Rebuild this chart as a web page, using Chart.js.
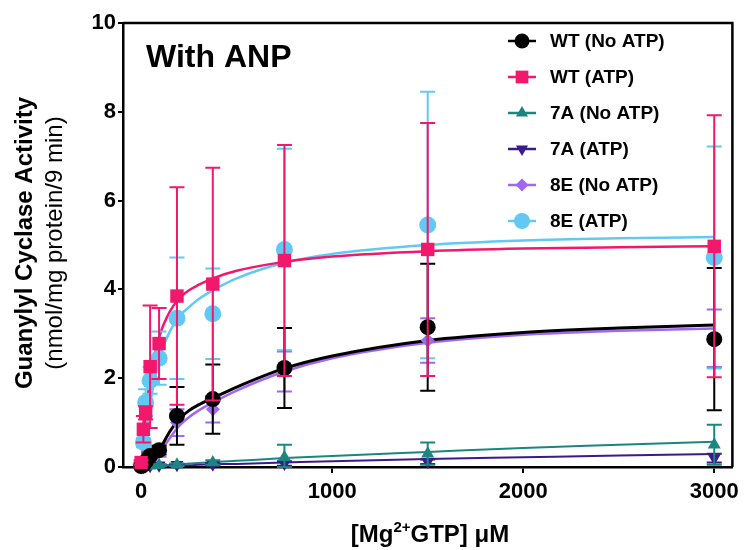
<!DOCTYPE html>
<html>
<head>
<meta charset="utf-8">
<script src="https://cdn.jsdelivr.net/npm/chart.js@4.4.0/dist/chart.umd.min.js"></script>
<style>
  html, body { margin: 0; padding: 0; background: #fff; }
  #wrap { width: 745px; height: 550px; }
</style>
</head>
<body>
<div id="wrap"><canvas id="gc"></canvas></div>
<script>
// measured points (uM GTP)
const xConc = [0, 11.7, 23.4, 46.9, 93.8, 187.5, 375, 750, 1500, 3000];

const wtNoAtp   = [0.02, 0.05, 0.12, 0.25, 0.38, 1.15, 1.53, 2.23, 3.15, 2.88];
const wtNoAtpSd = [0, 0, 0.02, 0.05, 0.1, 0.65, 0.78, 0.9, 1.43, 1.6];
const wtAtp     = [0.1, 0.85, 1.22, 2.26, 2.78, 3.85, 4.12, 4.65, 4.9, 4.97];
const wtAtpSd   = [0.05, 0.3, 0.15, 1.38, 0.8, 2.45, 2.62, 2.6, 2.85, 2.95];
const a7NoAtp   = [0, 0.01, 0.02, 0.03, 0.04, 0.05, 0.1, 0.22, 0.3, 0.5];
const a7NoAtpSd = [0, 0, 0, 0.01, 0.02, 0.03, 0.05, 0.28, 0.25, 0.45];
const a7Atp     = [0, 0.01, 0.02, 0.03, 0.04, 0.05, 0.06, 0.08, 0.12, 0.2];
const a7AtpSd   = [0, 0, 0, 0, 0.01, 0.02, 0.03, 0.05, 0.05, 0.1];
const e8NoAtp   = [0.02, 0.05, 0.1, 0.2, 0.33, 1.0, 1.3, 2.15, 2.85, 2.9];
const e8NoAtpSd = [0, 0, 0.02, 0.05, 0.1, 0.3, 0.3, 0.45, 0.5, 0.65];
const e8Atp     = [0.05, 0.55, 1.45, 1.95, 2.45, 3.35, 3.45, 4.9, 5.45, 4.72];
const e8AtpSd   = [0.02, 0.1, 0.3, 0.3, 0.6, 1.37, 1.02, 2.27, 3.0, 2.5];

// fitted curves
const curveX     = [0, 25, 50, 100, 150, 200, 250, 300, 375, 500, 750, 1000, 1500, 2000, 2500, 3000];
const wtNoAtpFit = [0, 0.04, 0.12, 0.42, 0.8, 1.08, 1.27, 1.4, 1.55, 1.8, 2.22, 2.5, 2.85, 3.03, 3.13, 3.2];
const wtAtpFit   = [0, 1.2, 2.1, 3.0, 3.5, 3.8, 3.98, 4.1, 4.25, 4.42, 4.62, 4.74, 4.86, 4.92, 4.95, 4.97];
const a7NoAtpFit = [0, 0.01, 0.02, 0.03, 0.05, 0.06, 0.08, 0.09, 0.11, 0.14, 0.2, 0.25, 0.34, 0.43, 0.5, 0.57];
const a7AtpFit   = [0, 0.01, 0.01, 0.02, 0.03, 0.04, 0.04, 0.05, 0.06, 0.07, 0.1, 0.13, 0.18, 0.22, 0.26, 0.29];
const e8NoAtpFit = [0, 0.03, 0.1, 0.35, 0.65, 0.93, 1.12, 1.27, 1.45, 1.72, 2.15, 2.45, 2.8, 2.98, 3.07, 3.12];
const e8AtpFit   = [0, 0.7, 1.5, 2.5, 3.05, 3.4, 3.6, 3.78, 3.98, 4.25, 4.6, 4.8, 5.0, 5.1, 5.15, 5.18];

const seriesNames = ['WT (No ATP)', 'WT (ATP)', '7A (No ATP)', '7A (ATP)', '8E (No ATP)', '8E (ATP)'];
const xTicks = [0, 1000, 2000, 3000];

const FONT = "'Liberation Sans', Arial, sans-serif";
const series = [
  { name: seriesNames[0], y: wtNoAtp, sd: wtNoAtpSd, fit: wtNoAtpFit, color: '#000000', style: 'circle', r: 8, rot: 0, lw: 3, order: 5 },
  { name: seriesNames[1], y: wtAtp, sd: wtAtpSd, fit: wtAtpFit, color: '#f2186c', style: 'rect', r: 9.5, rot: 0, lw: 2.5, order: 4 },
  { name: seriesNames[2], y: a7NoAtp, sd: a7NoAtpSd, fit: a7NoAtpFit, color: '#1b8580', style: 'triangle', r: 7.5, rot: 0, lw: 2, order: 8 },
  { name: seriesNames[3], y: a7Atp, sd: a7AtpSd, fit: a7AtpFit, color: '#3b1a8c', style: 'triangle', r: 7.5, rot: 180, lw: 2, order: 9 },
  { name: seriesNames[4], y: e8NoAtp, sd: e8NoAtpSd, fit: e8NoAtpFit, color: '#a068f2', style: 'rectRot', r: 7, rot: 0, lw: 2.5, order: 7 },
  { name: seriesNames[5], y: e8Atp, sd: e8AtpSd, fit: e8AtpFit, color: '#62c8f4', style: 'circle', r: 8.5, rot: 0, lw: 2.5, order: 6 }
];

const datasets = [];
series.forEach(s => {
  datasets.push({
    label: s.name + ' fit',
    data: curveX.map((x, i) => ({ x: x, y: s.fit[i] })),
    showLine: true,
    pointRadius: 0,
    borderColor: s.color,
    borderWidth: s.lw,
    cubicInterpolationMode: 'monotone',
    order: s.order + 10
  });
  datasets.push({
    label: s.name,
    data: xConc.map((x, i) => ({ x: x, y: s.y[i] })),
    errorBars: s.sd,
    showLine: false,
    pointStyle: s.style,
    pointRadius: s.r,
    pointRotation: s.rot,
    backgroundColor: s.color,
    borderColor: s.color,
    borderWidth: 0,
    clip: false,
    order: s.order
  });
});

const errorBarPlugin = {
  id: 'errorBars',
  beforeDatasetDraw(chart, args) {
    const ds = chart.data.datasets[args.index];
    if (!ds.errorBars) return;
    const ctx = chart.ctx, xs = chart.scales.x, ys = chart.scales.y;
    ctx.save();
    ctx.strokeStyle = ds.borderColor;
    ctx.lineWidth = 2;
    ds.data.forEach((p, i) => {
      const e = ds.errorBars[i];
      if (!e) return;
      const px = xs.getPixelForValue(p.x);
      const top = ys.getPixelForValue(p.y + e);
      const bot = ys.getPixelForValue(Math.max(0, p.y - e));
      ctx.beginPath();
      ctx.moveTo(px, top); ctx.lineTo(px, bot);
      ctx.moveTo(px - 7.5, top); ctx.lineTo(px + 7.5, top);
      ctx.moveTo(px - 7.5, bot); ctx.lineTo(px + 7.5, bot);
      ctx.stroke();
    });
    ctx.restore();
  }
};

const decorPlugin = {
  id: 'decor',
  afterDraw(chart) {
    const ctx = chart.ctx, a = chart.chartArea;
    ctx.save();
    // frame top/right
    ctx.strokeStyle = '#000';
    ctx.lineWidth = 2.5;
    ctx.beginPath();
    ctx.moveTo(a.left, a.top); ctx.lineTo(a.right, a.top); ctx.lineTo(a.right, a.bottom);
    ctx.stroke();

    ctx.fillStyle = '#000';
    ctx.font = 'bold 32px ' + FONT;
    ctx.textBaseline = 'alphabetic';
    ctx.textAlign = 'left';
    ctx.fillText('With ANP', 146, 67);

    // legend
    ctx.textBaseline = 'middle';
    series.forEach((s, i) => {
      const y = 41 + i * 36;
      ctx.strokeStyle = s.color;
      ctx.fillStyle = s.color;
      ctx.lineWidth = 2.5;
      ctx.beginPath(); ctx.moveTo(508, y); ctx.lineTo(536, y); ctx.stroke();
      Chart.helpers.drawPoint(ctx, { pointStyle: s.style, radius: s.r - 0.5, rotation: s.rot, borderWidth: 0 }, 522, y);
      ctx.fillStyle = '#000';
      ctx.font = 'bold 19px ' + FONT;
      ctx.fillText(s.name, 550, y + 1);
    });

    // y title
    ctx.save();
    ctx.translate(25, 243);
    ctx.rotate(-Math.PI / 2);
    ctx.textAlign = 'center';
    ctx.textBaseline = 'middle';
    ctx.font = 'bold 24px ' + FONT;
    ctx.fillText('Guanylyl Cyclase Activity', 0, 0);
    ctx.font = '24px ' + FONT;
    ctx.fillText('(nmol/mg protein/9 min)', 0, 30);
    ctx.restore();

    // x title with superscript
    ctx.textBaseline = 'alphabetic';
    ctx.textAlign = 'left';
    const big = 'bold 24px ' + FONT, small = 'bold 15px ' + FONT;
    ctx.font = big; const w1 = ctx.measureText('[Mg').width;
    ctx.font = small; const w2 = ctx.measureText('2+').width;
    ctx.font = big; const w3 = ctx.measureText('GTP] \u03BCM').width;
    let x = 430 - (w1 + w2 + w3) / 2;
    ctx.font = big; ctx.fillText('[Mg', x, 542); x += w1;
    ctx.font = small; ctx.fillText('2+', x, 532); x += w2;
    ctx.font = big; ctx.fillText('GTP] \u03BCM', x, 542);
    ctx.restore();
  }
};

new Chart(document.getElementById('gc'), {
  type: 'scatter',
  data: { datasets: datasets },
  plugins: [errorBarPlugin, decorPlugin],
  options: {
    responsive: true,
    maintainAspectRatio: false,
    animation: false,
    layout: { padding: { left: 58, top: 23, right: 9, bottom: 0 } },
    plugins: { legend: { display: false }, tooltip: { enabled: false } },
    scales: {
      x: {
        type: 'linear',
        min: -95,
        max: 3095,
        afterBuildTicks(scale) { scale.ticks = xTicks.map(v => ({ value: v })); },
        afterFit(scale) { scale.height = 83; },
        border: { color: '#000', width: 2.5 },
        grid: { drawOnChartArea: false, color: '#000', tickLength: 6, lineWidth: 2 },
        ticks: {
          color: '#000', font: { family: FONT, size: 22, weight: 'bold' }, padding: 6,
          callback: v => String(v)
        }
      },
      y: {
        min: 0,
        max: 10,
        afterFit(scale) { scale.width = 65; },
        border: { color: '#000', width: 2.5 },
        grid: { drawOnChartArea: false, color: '#000', tickLength: 5, lineWidth: 2 },
        ticks: { stepSize: 2, color: '#000', font: { family: FONT, size: 22, weight: 'bold' }, padding: 2 }
      }
    }
  }
});
</script>
</body>
</html>
